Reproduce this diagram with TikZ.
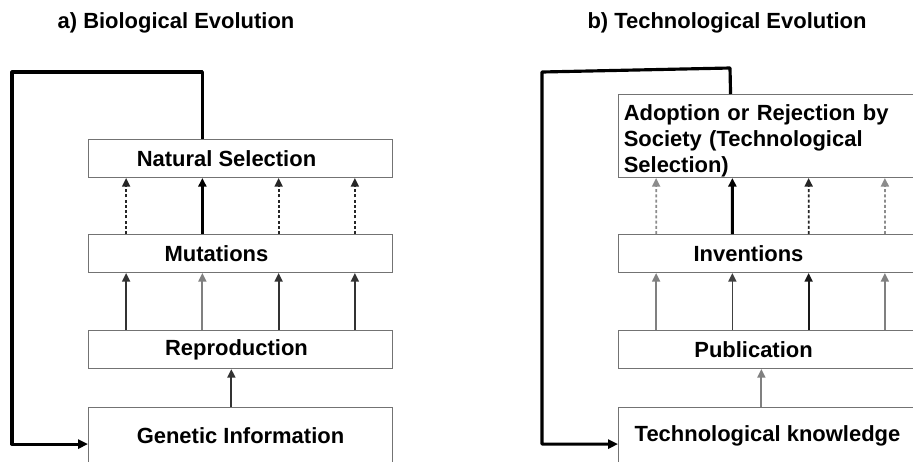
\documentclass[tikz,border=0pt]{standalone}
\usepackage{fontspec}
\setmainfont{Liberation Sans}
\usetikzlibrary{positioning,calc,arrows.meta}

\begin{document}
\begin{tikzpicture}[x=0.02cm,y=-0.02cm,
	txt/.style={font=\fontsize{12.5}{14.8}\selectfont\bfseries},
	box/.style={txt,draw=black!55,line width=0.6pt,minimum width=6.08cm,minimum height=0.76cm,inner xsep=3pt,inner ysep=2pt},
	up/.style={-{Triangle[length=0.17cm,width=0.16cm]},line width=1pt},
	dashup/.style={up,dash pattern=on 0.06cm off 0.045cm},
	thickup/.style={up,line width=1.7pt},
	back/.style={-{Triangle[length=0.2cm,width=0.18cm]},line width=1.8pt,line join=round}]
	\useasboundingbox (0,0) rectangle (913,461);
	\clip (0,0) rectangle (913,461);

	\node[txt] (ta) at (176,23) {a) Biological Evolution};
	\node[txt] (tb) at (727,23) {b) Technological Evolution};

	% a) biological
	\node[box,anchor=north west] (ns) at (88,139) {\kern-0.56cm Natural Selection};
	\node[box] (mut)[below=1.12cm of ns] {\kern-0.96cm Mutations};
	\node[box] (rep)[below=1.14cm of mut] {\kern-0.16cm Reproduction};
	\node[box,minimum height=1.12cm] (gen)[below=0.76cm of rep] {Genetic Information};

	% b) technological
	\node[box,anchor=north west,text width=5.87cm,align=left,inner ysep=0pt,minimum height=1.66cm] (ados) at (618,94)
		{\rule{0pt}{0.5cm}Adoption or Rejection by\\Society (Technological\\Selection)};
	\node[box] (inv)[below=1.12cm of ados] {\kern-0.88cm Inventions};
	\node[box] (pub)[below=1.14cm of inv] {\kern-0.68cm Publication};
	\node[box,minimum height=1.12cm] (tk)[below=0.76cm of pub] {\kern-0.12cm Technological knowledge};

	\foreach \i/\s/\c in {1/dashup/black!85,3/thickup/black,5/dashup/black!85,7/dashup/black!85}
		\draw[\s,\c] ($(mut.north west)!\i/8!(mut.north east)$) -- ($(ns.south west)!\i/8!(ns.south east)$);
	\foreach \i/\c in {1/black!80,3/black!50,5/black!80,7/black!80}
		\draw[up,\c] ($(rep.north west)!\i/8!(rep.north east)$) -- ($(mut.south west)!\i/8!(mut.south east)$);
	\draw[up,black!80] ($(gen.north west)!0.47!(gen.north east)$) -- ($(rep.south west)!0.47!(rep.south east)$);

	\foreach \i/\s/\c in {1/dashup/black!45,3/thickup/black,5/dashup/black!85,7/dashup/black!45}
		\draw[\s,\c] ($(inv.north west)!\i/8!(inv.north east)$) -- ($(ados.south west)!\i/8!(ados.south east)$);
	\foreach \i/\c in {1/black!50,3/black!75,5/black!90,7/black!50}
		\draw[up,\c] ($(pub.north west)!\i/8!(pub.north east)$) -- ($(inv.south west)!\i/8!(inv.south east)$);
	\draw[up,black!50] ($(tk.north west)!0.47!(tk.north east)$) -- ($(pub.south west)!0.47!(pub.south east)$);

	% feedback loops
	\coordinate (nsfb) at ($(ns.north west)!3/8!(ns.north east)$);
	\coordinate (genin) at ([yshift=-0.74cm]gen.north west);
	\coordinate (ca) at (12,72);
	\draw[back] (nsfb) |- (ca) |- (genin);

	\coordinate (adfb) at ($(ados.north west)!0.369!(ados.north east)$);
	\coordinate (tkin) at ([yshift=-0.74cm]tk.north west);
	\coordinate (cb1) at (730,68);
	\coordinate (cb2) at (542,72);
	\draw[back] (adfb) -- (cb1) -- (cb2) |- (tkin);
\end{tikzpicture}
\end{document}
